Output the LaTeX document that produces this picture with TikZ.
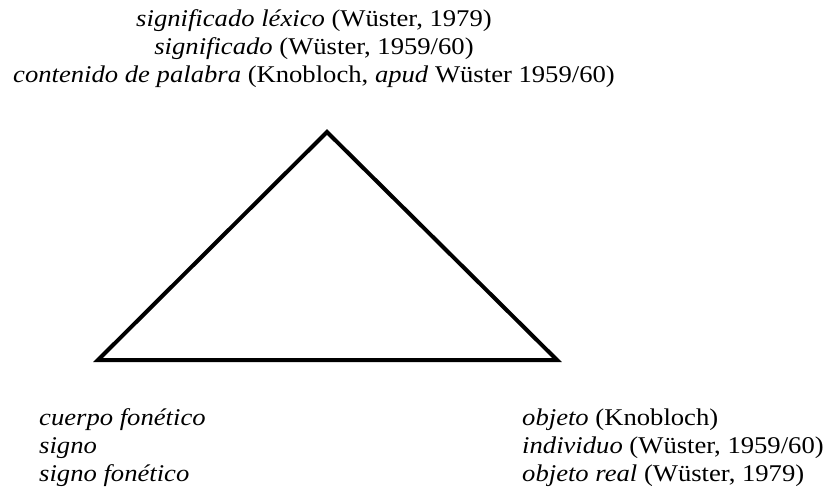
\documentclass[tikz,border=0pt]{standalone}
\usepackage{fontspec}
\setmainfont{Liberation Serif}[FakeStretch=1.11]
\begin{document}
\begin{tikzpicture}[x=1pt,y=-1pt,
  lbl/.style={inner sep=0pt,font=\fontsize{24}{27.5}\selectfont},
  tri/.style={line width=4pt,line join=miter}]
\useasboundingbox (0,0) rectangle (829,495);
% top labels
\node[lbl,anchor=base] (t1) at (314,27) {\textit{significado léxico} (Wüster, 1979)};
\node[lbl,anchor=base] (t2) at (314,55) {\textit{significado} (Wüster, 1959/60)};
\node[lbl,anchor=base] (t3) at (314,82) {\textit{contenido de palabra} (Knobloch, \textit{apud} Wüster 1959/60)};
% triangle
\coordinate (A) at (327,132);
\coordinate (B) at (98,360);
\coordinate (C) at (557,360);
\draw[tri] (A) -- (B) -- (C) -- cycle;
% bottom left labels
\node[lbl,anchor=base west] (l1) at (39,425) {\textit{cuerpo fonético}};
\node[lbl,anchor=base west] (l2) at (39,453) {\textit{signo}};
\node[lbl,anchor=base west] (l3) at (39,481) {\textit{signo fonético}};
% bottom right labels
\node[lbl,anchor=base west] (r1) at (522,425) {\textit{objeto} (Knobloch)};
\node[lbl,anchor=base west] (r2) at (522,453) {\textit{individuo} (Wüster, 1959/60)};
\node[lbl,anchor=base west] (r3) at (522,481) {\textit{objeto real} (Wüster, 1979)};
\end{tikzpicture}
\end{document}
